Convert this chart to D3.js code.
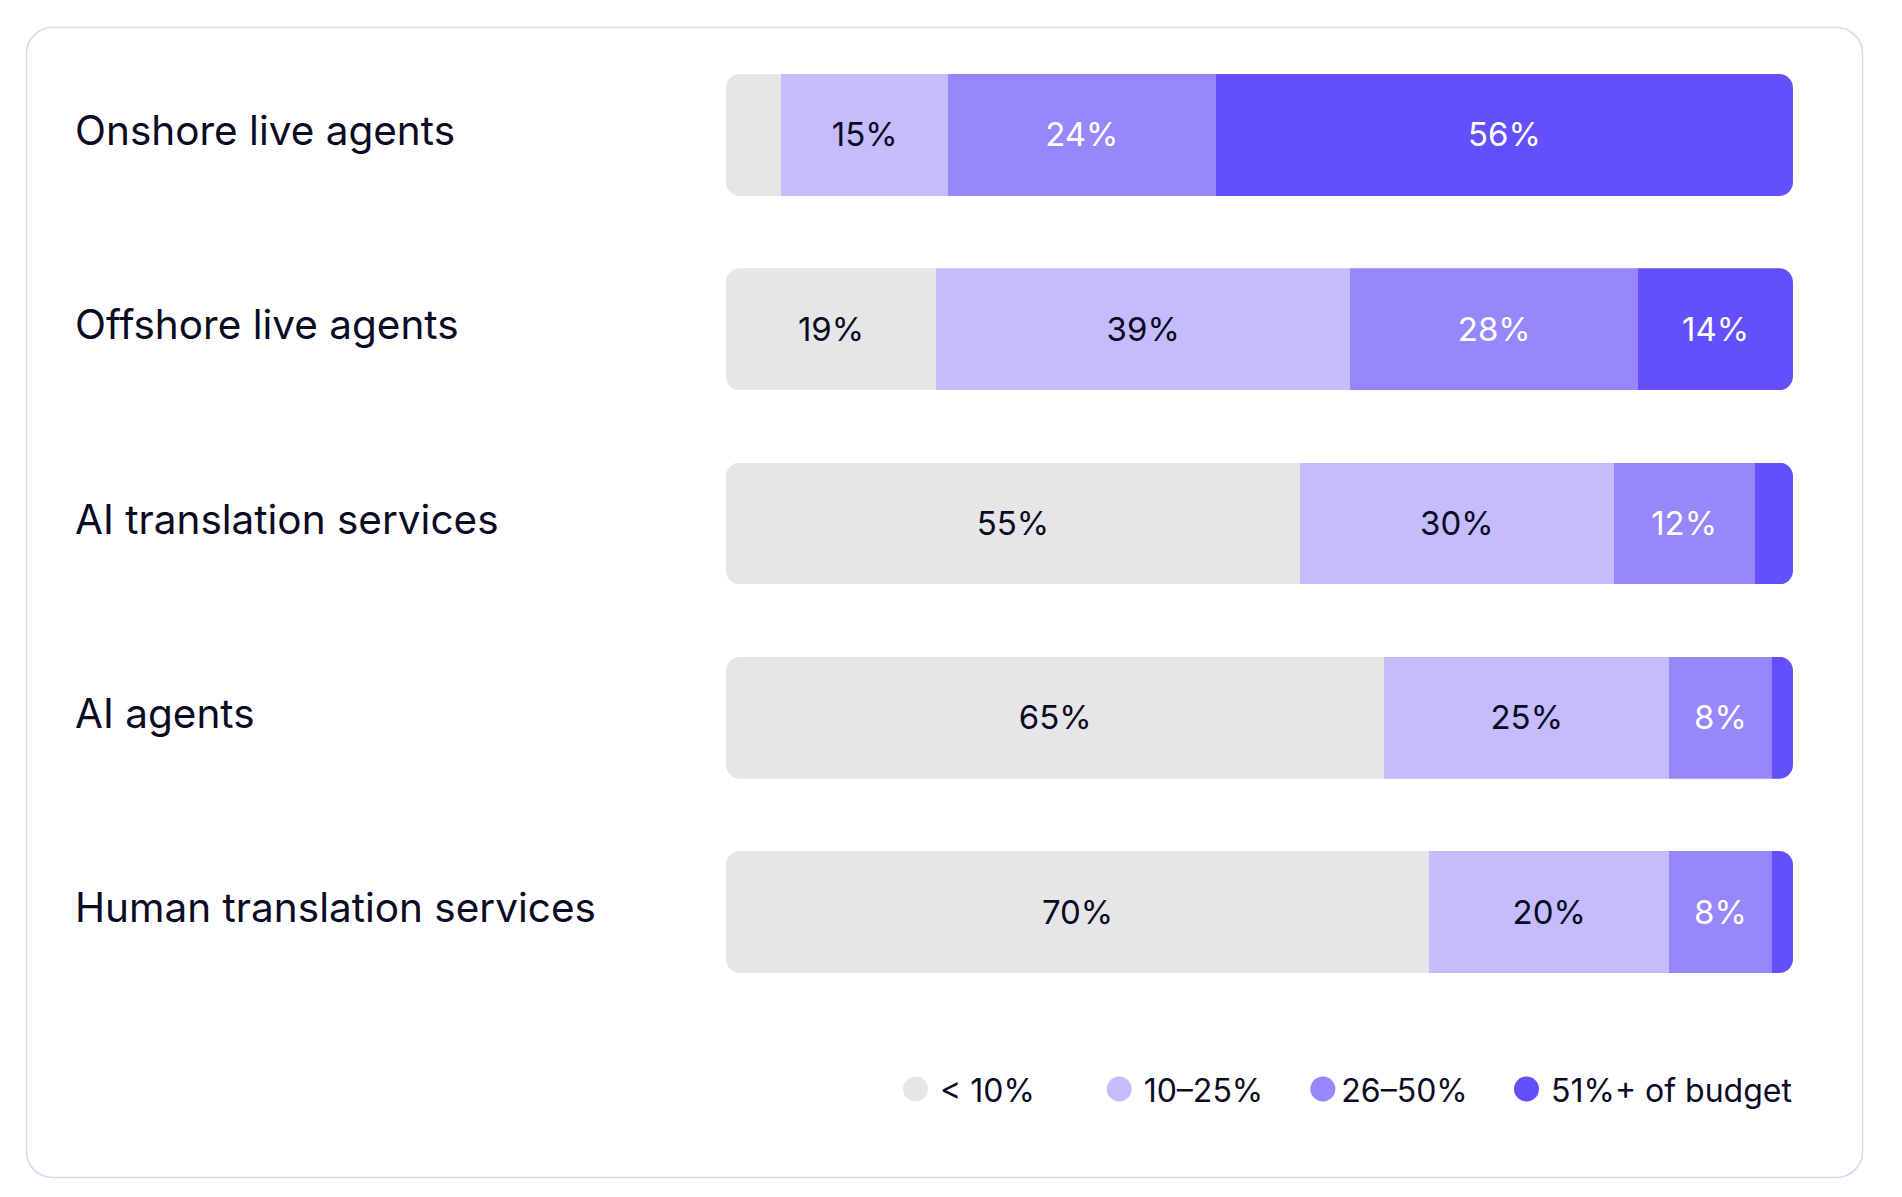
<!DOCTYPE html>
<html>
<head>
<meta charset="utf-8">
<script src="https://cdn.jsdelivr.net/npm/d3@7"></script>
<style>
  html, body { margin: 0; padding: 0; background: #ffffff; }
  svg { display: block; font-family: Inter, "Noto Sans", sans-serif; }
</style>
</head>
<body>
<svg id="chart" width="1902" height="1197"></svg>
<script>
// ---- data ----
const categories = [
  "Onshore live agents",
  "Offshore live agents",
  "AI translation services",
  "AI agents",
  "Human translation services"
];
const seriesNames = ["< 10%", "10–25%", "26–50%", "51%+ of budget"];
// segment shares as drawn in the picture (percent of bar length)
const shareLow      = [5.2, 19.7, 53.8, 61.7, 65.9];
const shareLowMid   = [15.6, 38.8, 29.4, 26.7, 22.5];
const shareHighMid  = [25.1, 27.0, 13.2, 9.6, 9.6];
const shareHigh     = [54.1, 14.5, 3.6, 2.0, 2.0];
// printed labels on the segments ("" = no label)
const labelLow      = ["", "19%", "55%", "65%", "70%"];
const labelLowMid   = ["15%", "39%", "30%", "25%", "20%"];
const labelHighMid  = ["24%", "28%", "12%", "8%", "8%"];
const labelHigh     = ["56%", "14%", "", "", ""];

const colors = ["#e6e6e9", "#c4bcfd", "#9688fa", "#634ffb"];
const textColors = ["#0b0b24", "#0b0b24", "#ffffff", "#ffffff"];

// ---- build table ----
const shares = [shareLow, shareLowMid, shareHighMid, shareHigh];
const labels = [labelLow, labelLowMid, labelHighMid, labelHigh];
const rows = categories.map((c, i) => {
  const r = { category: c };
  seriesNames.forEach((s, k) => { r[s] = shares[k][i]; });
  return r;
});
const stacked = d3.stack().keys(seriesNames)(rows);

const svg = d3.select("#chart");

// card
svg.append("rect")
  .attr("x", 26.5).attr("y", 27.5)
  .attr("width", 1836).attr("height", 1150)
  .attr("rx", 26).attr("ry", 26)
  .attr("fill", "#ffffff")
  .attr("stroke", "#d9d5f8")
  .attr("stroke-width", 1.5);

const x = d3.scaleLinear().domain([0, 100]).range([726, 1793]);
const y = d3.scaleBand().domain(categories).range([74, 973]).paddingInner(0.372).paddingOuter(0);
const color = d3.scaleOrdinal().domain(seriesNames).range(colors);
const tcolor = d3.scaleOrdinal().domain(seriesNames).range(textColors);

const defs = svg.append("defs");
categories.forEach((c, i) => {
  defs.append("clipPath").attr("id", "clip" + i)
    .append("rect")
    .attr("x", x(0)).attr("y", y(c))
    .attr("width", x(100) - x(0)).attr("height", y.bandwidth())
    .attr("rx", 14).attr("ry", 14);
});

// row labels
svg.append("g").selectAll("text")
  .data(categories)
  .join("text")
  .attr("x", 75)
  .attr("y", d => y(d) + y.bandwidth() / 2 + 10)
  .attr("font-size", 40.5)
  .attr("fill", "#0b0b24")
  .text(d => d);

// bars
const barG = svg.append("g");
categories.forEach((c, i) => {
  const g = barG.append("g").attr("clip-path", `url(#clip${i})`);
  stacked.forEach((layer, k) => {
    const seg = layer[i];
    g.append("rect")
      .attr("x", x(seg[0]))
      .attr("y", y(c))
      .attr("width", x(seg[1]) - x(seg[0]))
      .attr("height", y.bandwidth())
      .attr("fill", color(layer.key))
      .attr("shape-rendering", "crispEdges");
  });
});

// segment labels
const labG = svg.append("g");
stacked.forEach((layer, k) => {
  labG.selectAll(null)
    .data(layer.map((seg, i) => ({ seg, i, text: labels[k][i] })).filter(d => d.text))
    .join("text")
    .attr("x", d => (x(d.seg[0]) + x(d.seg[1])) / 2)
    .attr("y", d => y(categories[d.i]) + y.bandwidth() / 2 + 11.5)
    .attr("text-anchor", "middle")
    .attr("font-size", 33)
    .attr("fill", tcolor(layer.key))
    .text(d => d.text);
});

// legend
const lx = d3.scalePoint().domain(seriesNames).range([903, 1514]);
const leg = svg.append("g").selectAll("g")
  .data(seriesNames)
  .join("g")
  .attr("transform", d => `translate(${lx(d)},0)`);
leg.append("circle")
  .attr("cx", 12.5).attr("cy", 1089)
  .attr("r", 12.5)
  .attr("fill", d => color(d));
leg.append("text")
  .attr("x", (d, i) => i === 2 ? 31 : 37)
  .attr("y", 1102)
  .attr("font-size", 32)
  .attr("fill", "#0b0b24")
  .text(d => d);
</script>
</body>
</html>
